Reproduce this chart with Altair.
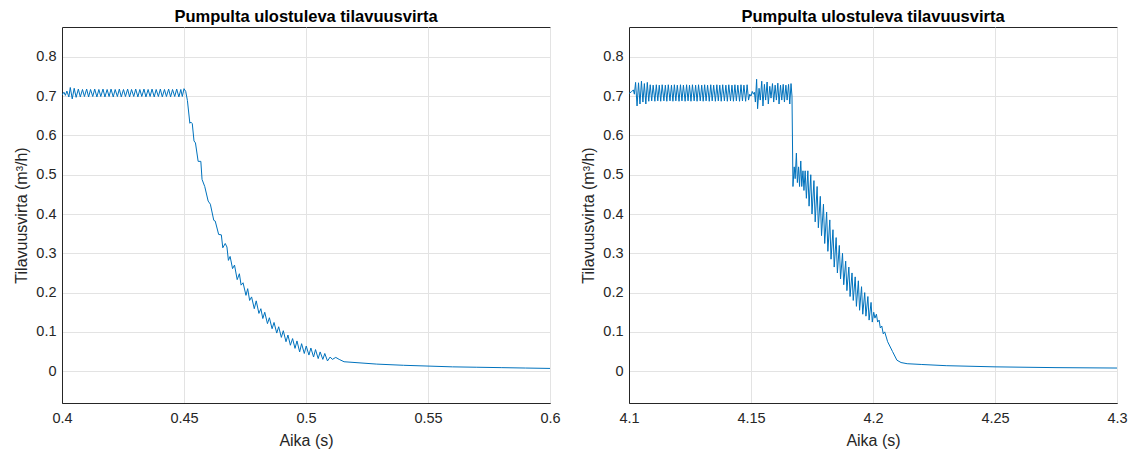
import altair as alt
import pandas as pd

TITLE = "Pumpulta ulostuleva tilavuusvirta"
X_LABEL = "Aika (s)"
Y_LABEL = "Tilavuusvirta (m³/h)"

left_x_ticks = [0.4, 0.45, 0.5, 0.55, 0.6]
right_x_ticks = [4.1, 4.15, 4.2, 4.25, 4.3]
y_ticks = [0, 0.1, 0.2, 0.3, 0.4, 0.5, 0.6, 0.7, 0.8]

left_plateau = [
    (0.4000, 0.703), (0.4008, 0.710), (0.4014, 0.702), (0.4020, 0.713), (0.4028, 0.698),
    (0.4034, 0.722), (0.4042, 0.693), (0.4050, 0.720), (0.4058, 0.697),
    (0.4067, 0.718), (0.4075, 0.698), (0.4084, 0.717), (0.4092, 0.699), (0.4101, 0.718),
    (0.4109, 0.698), (0.4117, 0.717), (0.4126, 0.699), (0.4134, 0.718), (0.4143, 0.698),
    (0.4151, 0.717), (0.4159, 0.699), (0.4168, 0.718), (0.4176, 0.698), (0.4185, 0.717),
    (0.4193, 0.699), (0.4201, 0.718), (0.4210, 0.698), (0.4218, 0.717), (0.4227, 0.699),
    (0.4235, 0.718), (0.4243, 0.698), (0.4252, 0.717), (0.4260, 0.699), (0.4269, 0.718),
    (0.4277, 0.698), (0.4285, 0.717), (0.4294, 0.699), (0.4302, 0.718), (0.4311, 0.698),
    (0.4319, 0.717), (0.4327, 0.699), (0.4336, 0.718), (0.4344, 0.698), (0.4353, 0.717),
    (0.4361, 0.699), (0.4369, 0.718), (0.4378, 0.698), (0.4386, 0.717), (0.4395, 0.699),
    (0.4403, 0.718), (0.4411, 0.698), (0.4420, 0.717), (0.4428, 0.699), (0.4437, 0.718),
    (0.4445, 0.698), (0.4453, 0.717), (0.4462, 0.699), (0.4470, 0.718), (0.4479, 0.698),
    (0.4487, 0.717), (0.4493, 0.699), (0.4500, 0.719),
]

left_decay = [
    (0.4507, 0.712), (0.4514, 0.689), (0.4524, 0.631), (0.4528, 0.634), (0.4534, 0.630),
    (0.4541, 0.586), (0.4547, 0.581), (0.4558, 0.534), (0.4569, 0.534), (0.4574, 0.488),
    (0.4585, 0.470), (0.4599, 0.433), (0.4608, 0.425), (0.4622, 0.384), (0.4628, 0.382),
    (0.4642, 0.348), (0.4653, 0.347), (0.4659, 0.314), (0.4669, 0.325), (0.4676, 0.316),
    (0.4682, 0.282), (0.4689, 0.292), (0.4699, 0.261), (0.4707, 0.270), (0.4718, 0.233),
    (0.4727, 0.248), (0.4734, 0.219), (0.4742, 0.225), (0.4754, 0.193), (0.4761, 0.210),
    (0.4769, 0.180), (0.4777, 0.189), (0.4788, 0.159), (0.4796, 0.179), (0.4807, 0.147),
    (0.4815, 0.159), (0.4823, 0.134), (0.4831, 0.150), (0.4842, 0.121), (0.4850, 0.136),
    (0.4861, 0.108), (0.4869, 0.124), (0.4880, 0.097), (0.4888, 0.113), (0.4899, 0.086),
    (0.4907, 0.103), (0.4918, 0.075), (0.4926, 0.092), (0.4936, 0.066), (0.4945, 0.083),
    (0.4955, 0.058), (0.4963, 0.077), (0.4974, 0.049), (0.4982, 0.070), (0.4993, 0.045),
    (0.5001, 0.064), (0.5012, 0.041), (0.5020, 0.059), (0.5031, 0.036), (0.5039, 0.055),
    (0.5050, 0.032), (0.5058, 0.049), (0.5069, 0.030), (0.5077, 0.045), (0.5088, 0.026),
    (0.5099, 0.036), (0.5108, 0.030), (0.5122, 0.035), (0.5136, 0.030), (0.5156, 0.024),
    (0.5290, 0.018), (0.5400, 0.015), (0.5500, 0.013), (0.5600, 0.011), (0.5700, 0.010),
    (0.5800, 0.009), (0.5900, 0.008), (0.6000, 0.007),
]

right_plateau = [
    (4.1000, 0.707), (4.1010, 0.711), (4.1018, 0.716), (4.1022, 0.705), (4.1027, 0.735),
    (4.1033, 0.675), (4.1039, 0.734), (4.1045, 0.680), (4.1051, 0.738), (4.1057, 0.685),
    (4.1063, 0.732), (4.1069, 0.680), (4.1075, 0.735),
    (4.1081, 0.687), (4.1087, 0.729), (4.1093, 0.688), (4.1099, 0.728), (4.1106, 0.687),
    (4.1112, 0.729), (4.1118, 0.688), (4.1124, 0.728), (4.1130, 0.687), (4.1136, 0.729),
    (4.1143, 0.688), (4.1149, 0.728), (4.1155, 0.687), (4.1161, 0.729), (4.1168, 0.688),
    (4.1174, 0.728), (4.1180, 0.687), (4.1186, 0.729), (4.1192, 0.688), (4.1198, 0.728),
    (4.1205, 0.687), (4.1211, 0.729), (4.1217, 0.688), (4.1223, 0.728), (4.1230, 0.687),
    (4.1236, 0.729), (4.1242, 0.688), (4.1248, 0.728), (4.1254, 0.687), (4.1260, 0.729),
    (4.1267, 0.688), (4.1273, 0.728), (4.1279, 0.687), (4.1285, 0.729), (4.1292, 0.688),
    (4.1298, 0.728), (4.1304, 0.687), (4.1310, 0.729), (4.1316, 0.688), (4.1322, 0.728),
    (4.1329, 0.687), (4.1335, 0.729), (4.1341, 0.688), (4.1347, 0.728), (4.1354, 0.687),
    (4.1360, 0.729), (4.1366, 0.688), (4.1372, 0.728), (4.1378, 0.687), (4.1384, 0.729),
    (4.1391, 0.688), (4.1397, 0.728), (4.1403, 0.687), (4.1409, 0.729), (4.1416, 0.688),
    (4.1422, 0.728), (4.1428, 0.687), (4.1434, 0.729), (4.1440, 0.688), (4.1446, 0.728),
    (4.1453, 0.687), (4.1459, 0.729), (4.1465, 0.688), (4.1471, 0.728), (4.1478, 0.687),
    (4.1484, 0.729), (4.1490, 0.690),
    (4.1495, 0.705), (4.1500, 0.700), (4.1505, 0.712), (4.1510, 0.705), (4.1514, 0.710),
    (4.1518, 0.685), (4.1523, 0.743), (4.1527, 0.668), (4.1533, 0.720), (4.1538, 0.690),
    (4.1544, 0.738), (4.1549, 0.675), (4.1555, 0.730), (4.1560, 0.690), (4.1566, 0.736),
    (4.1571, 0.680), (4.1577, 0.725), (4.1582, 0.695), (4.1588, 0.732), (4.1593, 0.685),
    (4.1599, 0.728), (4.1604, 0.690), (4.1610, 0.733), (4.1615, 0.680), (4.1621, 0.728),
    (4.1626, 0.690), (4.1632, 0.730), (4.1637, 0.685), (4.1643, 0.728), (4.1648, 0.690),
    (4.1654, 0.730), (4.1659, 0.680), (4.1664, 0.732),
]

right_decay = [
    (4.1668, 0.700), (4.1672, 0.470), (4.1677, 0.520), (4.1681, 0.490), (4.1686, 0.555),
    (4.1690, 0.480), (4.1695, 0.520), (4.1699, 0.470), (4.1704, 0.535), (4.1708, 0.470),
    (4.1713, 0.510), (4.1717, 0.460), (4.1722, 0.510), (4.1727, 0.440), (4.1733, 0.510),
    (4.1738, 0.420), (4.1745, 0.500), (4.1750, 0.400), (4.1758, 0.485), (4.1763, 0.380),
    (4.1771, 0.470), (4.1776, 0.365), (4.1784, 0.445), (4.1789, 0.345), (4.1797, 0.425),
    (4.1802, 0.325), (4.1810, 0.405), (4.1815, 0.305), (4.1823, 0.385), (4.1828, 0.285),
    (4.1836, 0.360), (4.1841, 0.265), (4.1849, 0.340), (4.1854, 0.250), (4.1862, 0.320),
    (4.1867, 0.235), (4.1875, 0.300), (4.1880, 0.220), (4.1888, 0.280), (4.1893, 0.205),
    (4.1901, 0.265), (4.1906, 0.190), (4.1914, 0.250), (4.1919, 0.180), (4.1927, 0.240),
    (4.1932, 0.165), (4.1940, 0.230), (4.1945, 0.155), (4.1953, 0.215), (4.1958, 0.145),
    (4.1966, 0.200), (4.1971, 0.140), (4.1979, 0.190), (4.1984, 0.130), (4.1992, 0.175),
    (4.1997, 0.125), (4.2003, 0.150), (4.2008, 0.135), (4.2014, 0.145), (4.2019, 0.125),
    (4.2025, 0.130), (4.2030, 0.110), (4.2036, 0.115), (4.2042, 0.095), (4.2048, 0.100),
    (4.2060, 0.075), (4.2080, 0.050), (4.2098, 0.028), (4.2115, 0.022), (4.2140, 0.019),
    (4.2200, 0.017), (4.2300, 0.014), (4.2500, 0.011), (4.2750, 0.009), (4.3000, 0.008),
]

FONT = "Liberation Sans"
LINE_COLOR = "#0072BD"
Y_DOMAIN = [-0.081, 0.876]


def to_frame(*segments):
    rows = [p for seg in segments for p in seg]
    return pd.DataFrame({"t": [r[0] for r in rows], "q": [r[1] for r in rows],
                         "i": list(range(len(rows)))})


def panel(df, x_domain, x_ticks):
    return alt.Chart(df).mark_line(color=LINE_COLOR, strokeWidth=1, clip=True).encode(
        x=alt.X("t:Q", scale=alt.Scale(domain=x_domain, nice=False, zero=False),
                axis=alt.Axis(values=x_ticks, format="~g", title=X_LABEL,
                              labelFlush=False)),
        y=alt.Y("q:Q", scale=alt.Scale(domain=Y_DOMAIN, nice=False, zero=False),
                axis=alt.Axis(values=y_ticks, format="~g", title=Y_LABEL)),
        order="i:Q",
    ).properties(
        width=488, height=376,
        title=alt.TitleParams(TITLE, fontSize=16.5, fontWeight="bold", font=FONT,
                              color="#000000", offset=2),
    )


left = panel(to_frame(left_plateau, left_decay), [0.4, 0.6], left_x_ticks)
right = panel(to_frame(right_plateau, right_decay), [4.1, 4.3], right_x_ticks)

chart = alt.hconcat(left, right, spacing=19).configure_view(
    stroke="#262626", strokeWidth=1
).configure_axis(
    labelFont=FONT, titleFont=FONT, labelFontSize=14.5, titleFontSize=16,
    labelColor="#262626", titleColor="#262626", titleFontWeight="normal",
    domainColor="#262626", ticks=False, labelPadding=8,
    gridColor="#e3e3e3", gridWidth=1,
).configure_axisX(titlePadding=8).configure_axisY(titlePadding=6, labelPadding=6
).properties(background="white",
             padding={"left": 5, "top": 0, "right": 0, "bottom": 0})

chart.save("out.html", embed_options={"renderer": "svg", "actions": False})
